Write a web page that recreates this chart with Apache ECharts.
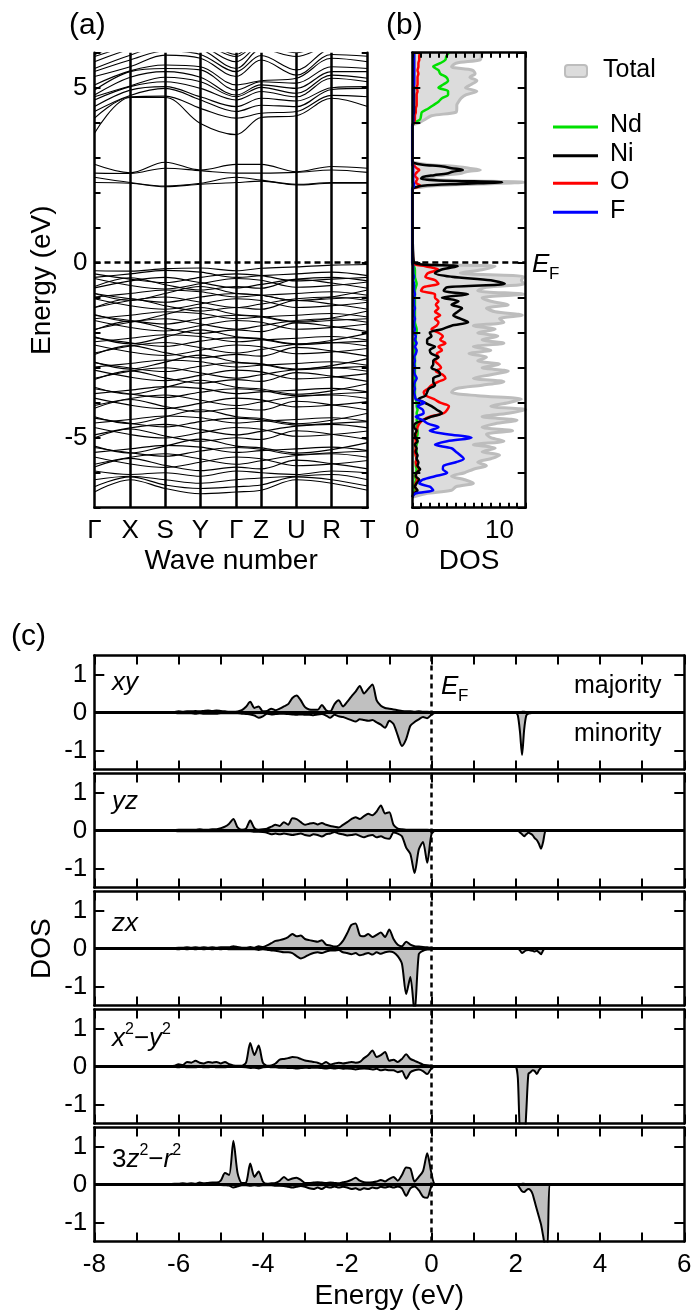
<!DOCTYPE html>
<html><head><meta charset="utf-8">
<script src="https://cdn.jsdelivr.net/npm/echarts@6/dist/echarts.min.js"></script>
<style>html,body{margin:0;padding:0;background:#fff}#c{width:695px;height:1316px}</style>
</head><body><div id="c"></div>
<script>
// ---------- Panel (a): band structure ----------
const kLabels = ['Γ','X','S','Y','Γ','Z','U','R','T'];
const kPos = [0, 1.0, 1.98, 2.97, 3.97, 4.67, 5.66, 6.65, 7.66];
// energies (eV) at Γ X S Y Γ Z U R T
const bandsCond = [
[3.70,4.72,4.72,3.98,3.66,4.15,4.20,4.70,4.46],
[4.13,4.74,4.76,4.41,4.13,4.27,4.32,4.78,4.74],
[4.32,4.78,4.98,4.65,4.32,4.50,4.46,4.95,4.98],
[4.46,4.93,5.03,4.74,4.46,4.70,4.62,5.00,5.03],
[4.65,5.03,5.17,4.98,4.65,4.89,4.74,5.27,5.17],
[4.74,5.05,5.30,5.17,4.74,5.01,4.84,5.36,5.27],
[4.79,5.30,5.46,5.30,4.79,5.08,4.98,5.46,5.46],
[4.93,5.46,5.55,5.51,4.93,5.17,5.13,5.60,5.55],
[5.08,5.48,5.65,5.60,5.08,5.20,5.27,5.84,5.74],
[5.32,5.60,5.93,5.84,5.32,5.79,5.36,5.95,5.90],
[5.46,5.79,6.05,5.95,5.46,5.92,5.51,6.10,6.05],
[5.55,5.93,6.20,6.10,5.55,6.10,5.89,6.20,6.20],
[5.74,6.10,6.30,6.20,5.74,6.20,6.00,6.30,6.30],
[5.89,6.20,6.40,6.30,5.89,6.30,6.10,6.40,6.40],
[5.95,6.30,6.50,6.40,5.95,6.40,6.20,6.50,6.50]
];
const bandsEg = [
[2.81,2.57,2.87,2.65,2.81,2.81,2.60,2.75,2.70],
[2.56,2.55,2.70,2.63,2.56,2.56,2.58,2.65,2.58],
[2.44,2.29,2.19,2.27,2.44,2.36,2.24,2.29,2.29],
[2.29,2.27,2.17,2.24,2.29,2.33,2.22,2.27,2.27]
];
const bandsVal = [
[-0.23,-0.24,-0.17,-0.15,-0.23,-0.16,-0.12,-0.07,-0.05],
[-0.32,-0.47,-0.57,-0.42,-0.32,-0.37,-0.52,-0.47,-0.42],
[-0.42,-0.32,-0.22,-0.27,-0.42,-0.37,-0.32,-0.27,-0.37],
[-0.72,-0.52,-0.42,-0.57,-0.72,-0.62,-0.47,-0.42,-0.52],
[-0.45,-0.65,-0.75,-0.60,-0.45,-0.50,-0.70,-0.65,-0.55],
[-0.68,-0.43,-0.63,-0.78,-0.68,-0.73,-0.48,-0.58,-0.73],
[-0.88,-1.08,-0.88,-0.68,-0.88,-0.93,-1.08,-0.98,-0.78],
[-0.88,-1.03,-1.13,-0.98,-0.88,-0.93,-1.08,-1.03,-0.98],
[-0.98,-0.88,-0.78,-0.83,-0.98,-0.93,-0.88,-0.83,-0.93],
[-1.28,-1.08,-0.98,-1.13,-1.28,-1.18,-1.03,-0.98,-1.08],
[-1.03,-1.23,-1.33,-1.18,-1.03,-1.08,-1.28,-1.23,-1.13],
[-1.28,-1.03,-1.23,-1.38,-1.28,-1.33,-1.08,-1.18,-1.33],
[-1.48,-1.68,-1.48,-1.28,-1.48,-1.53,-1.68,-1.58,-1.38],
[-1.50,-1.65,-1.75,-1.60,-1.50,-1.55,-1.70,-1.65,-1.60],
[-1.60,-1.50,-1.40,-1.45,-1.60,-1.55,-1.50,-1.45,-1.55],
[-1.90,-1.70,-1.60,-1.75,-1.90,-1.80,-1.65,-1.60,-1.70],
[-1.65,-1.85,-1.95,-1.80,-1.65,-1.70,-1.90,-1.85,-1.75],
[-1.92,-1.67,-1.87,-2.02,-1.92,-1.97,-1.72,-1.82,-1.97],
[-2.12,-2.32,-2.12,-1.92,-2.12,-2.17,-2.32,-2.22,-2.02],
[-2.14,-2.29,-2.39,-2.24,-2.14,-2.19,-2.34,-2.29,-2.24],
[-2.26,-2.16,-2.06,-2.11,-2.26,-2.21,-2.16,-2.11,-2.21],
[-2.58,-2.38,-2.28,-2.43,-2.58,-2.48,-2.33,-2.28,-2.38],
[-2.35,-2.55,-2.65,-2.50,-2.35,-2.40,-2.60,-2.55,-2.45],
[-2.62,-2.37,-2.57,-2.72,-2.62,-2.67,-2.42,-2.52,-2.67],
[-2.84,-3.04,-2.84,-2.64,-2.84,-2.89,-3.04,-2.94,-2.74],
[-2.86,-3.01,-3.11,-2.96,-2.86,-2.91,-3.06,-3.01,-2.96],
[-2.98,-2.88,-2.78,-2.83,-2.98,-2.93,-2.88,-2.83,-2.93],
[-3.30,-3.10,-3.00,-3.15,-3.30,-3.20,-3.05,-3.00,-3.10],
[-3.07,-3.27,-3.37,-3.22,-3.07,-3.12,-3.32,-3.27,-3.17],
[-3.34,-3.09,-3.29,-3.44,-3.34,-3.39,-3.14,-3.24,-3.39],
[-3.56,-3.76,-3.56,-3.36,-3.56,-3.61,-3.76,-3.66,-3.46],
[-3.60,-3.75,-3.85,-3.70,-3.60,-3.65,-3.80,-3.75,-3.70],
[-3.74,-3.64,-3.54,-3.59,-3.74,-3.69,-3.64,-3.59,-3.69],
[-4.08,-3.88,-3.78,-3.93,-4.08,-3.98,-3.83,-3.78,-3.88],
[-3.87,-4.07,-4.17,-4.02,-3.87,-3.92,-4.12,-4.07,-3.97],
[-4.16,-3.91,-4.11,-4.26,-4.16,-4.21,-3.96,-4.06,-4.21],
[-4.40,-4.60,-4.40,-4.20,-4.40,-4.45,-4.60,-4.50,-4.30],
[-4.44,-4.59,-4.69,-4.54,-4.44,-4.49,-4.64,-4.59,-4.54],
[-4.58,-4.48,-4.38,-4.43,-4.58,-4.53,-4.48,-4.43,-4.53],
[-4.92,-4.72,-4.62,-4.77,-4.92,-4.82,-4.67,-4.62,-4.72],
[-4.71,-4.91,-5.01,-4.86,-4.71,-4.76,-4.96,-4.91,-4.81],
[-5.00,-4.75,-4.95,-5.10,-5.00,-5.05,-4.80,-4.90,-5.05],
[-5.24,-5.44,-5.24,-5.04,-5.24,-5.29,-5.44,-5.34,-5.14],
[-5.28,-5.43,-5.53,-5.38,-5.28,-5.33,-5.48,-5.43,-5.38],
[-5.42,-5.32,-5.22,-5.27,-5.42,-5.37,-5.32,-5.27,-5.37],
[-5.76,-5.56,-5.46,-5.61,-5.76,-5.66,-5.51,-5.46,-5.56],
[-5.55,-5.75,-5.85,-5.70,-5.55,-5.60,-5.80,-5.75,-5.65],
[-5.84,-5.59,-5.79,-5.94,-5.84,-5.89,-5.64,-5.74,-5.89],
[-5.95,-6.05,-6.00,-6.10,-5.95,-6.00,-6.05,-5.95,-6.00],
[-6.20,-6.10,-6.20,-6.30,-6.20,-6.15,-6.10,-6.05,-6.20],
[-6.40,-6.12,-6.35,-6.45,-6.40,-6.35,-6.12,-6.20,-6.38],
[-6.55,-6.20,-6.45,-6.60,-6.55,-6.50,-6.20,-6.30,-6.50]
];

// ---------- Panel (b): DOS ----------
const dosE = [
-6.7,-6.6,-6.5,-6.4,-6.3,-6.2,-6.1,-6.0,-5.9,-5.8,-5.7,-5.6,-5.5,-5.4,-5.3,-5.2,-5.1,-5.0,-4.9,-4.8,
-4.7,-4.6,-4.5,-4.4,-4.3,-4.2,-4.1,-4.0,-3.9,-3.8,-3.7,-3.6,-3.5,-3.4,-3.3,-3.2,-3.1,-3.0,-2.9,-2.8,
-2.7,-2.6,-2.5,-2.4,-2.3,-2.2,-2.1,-2.0,-1.9,-1.8,-1.7,-1.6,-1.5,-1.4,-1.3,-1.2,-1.1,-1.0,-0.9,-0.8,
-0.7,-0.6,-0.5,-0.4,-0.3,-0.2,-0.1,0.0,
2.1,2.15,2.2,2.25,2.3,2.35,2.4,2.45,2.5,2.55,2.6,2.65,2.7,2.75,2.8,2.85,2.9,
3.9,4.0,4.1,4.2,4.3,4.4,4.5,4.6,4.7,4.8,4.9,5.0,5.1,5.2,5.3,5.4,5.5,5.6,5.7,5.8,5.9,6.0
];
const dosTotal = [
0,1.5,4.5,5.0,7.0,6.0,4.5,6.0,7.0,8.5, 7.5,9.0,10.0,8.0,9.5,7.0,10.5,9.0,8.5,11.5,
8.0,9.5,12.0,8.0,11.0,13.0,9.0,11.0,12.5,7.5, 4.5,5.0,8.0,10.5,7.0,9.0,11.0,8.0,10.0,7.5,
8.5,6.5,9.0,7.0,10.5,8.0,9.8,7.5,9.5,7.0, 10.5,10.0,12.6,9.5,8.5,11.0,9.0,8.0,12.8,7.5,
8.5,12.8,12.5,12.8,5.5,8.0,9.5,0,
0,0.8,2.5,8.0,12.8,5.0,1.8,2.0,3.5,5.5,6.2,7.8,6.5,5.0,2.0,0.5,0,
0,0.8,1.5,2.2,5.0,5.1,5.1,5.3,5.6,6.2,7.4,6.1,6.8,7.4,6.6,7.2,6.9,4.5,5.0,7.8,7.9,8.0
];
const dosNd = [
0,0.1,0.3,0.2,0.3,0.4,0.3,0.4,0.5,0.4, 0.4,0.5,0.4,0.5,0.4,0.5,0.6,0.5,0.6,0.6,
0.5,0.6,0.5,0.6,0.5,0.6,0.5,0.5,0.4,0.3, 0.3,0.3,0.3,0.3,0.3,0.3,0.3,0.3,0.3,0.3,
0.3,0.3,0.3,0.3,0.3,0.4,0.4,0.5,0.5,0.4, 0.3,0.3,0.3,0.3,0.3,0.3,0.3,0.3,0.3,0.3,
0.4,0.5,0.4,0.3,0.3,0.3,0.2,0,
0,0.05,0.1,0.1,0.05,0.05,0.05,0.05,0.05,0.05,0.05,0.05,0.05,0.05,0,0,0,
0,0.3,0.9,1.0,1.1,1.8,2.4,3.0,3.4,4.1,4.1,3.0,3.6,4.1,3.9,3.2,3.0,2.4,3.2,3.8,3.9,4.2
];
const dosNi = [
0,0.2,0.6,0.3,0.5,0.8,0.4,0.5,0.9,0.6, 0.7,0.5,0.6,0.4,0.5,0.3,0.6,0.4,0.3,0.5,
0.2,0.3,1.2,2.2,3.4,2.8,2.2,1.4,0.7,1.5, 1.7,1.9,2.6,2.4,2.4,3.2,3.0,2.2,2.4,2.4,
3.0,2.2,2.0,2.6,1.7,1.7,2.2,2.0,3.4,4.5, 6.4,5.5,4.7,5.2,5.7,4.5,5.3,3.4,6.4,3.6,
4.0,10.6,9.0,4.5,2.6,3.3,5.2,0.2,
0,0.3,1.2,5.5,10.3,3.0,1.0,1.2,2.5,4.0,4.6,5.8,4.5,3.5,1.2,0.2,0,
0,0.1,0.1,0.1,0.2,0.2,0.2,0.2,0.2,0.2,0.2,0.2,0.2,0.2,0.2,0.2,0.2,0.2,0.2,0.2,0.2,0.2
];
const dosO = [
0,0.2,0.5,0.3,0.4,0.6,0.4,0.5,0.8,0.5, 0.4,0.5,0.4,0.3,0.4,0.3,0.4,0.3,0.4,0.5,
0.6,0.8,1.2,2.0,3.6,4.0,4.2,3.2,2.5,1.6, 1.3,1.8,2.2,3.0,3.8,3.5,2.7,3.3,3.0,2.6,
3.0,2.8,3.4,3.0,3.8,3.2,3.5,3.0,2.2,2.8, 3.0,2.6,3.2,2.6,3.0,2.7,3.0,2.6,2.6,1.0,
1.3,3.0,2.6,1.5,1.8,3.0,1.5,0.1,
0,0.5,0.9,0.6,0.4,0.5,0.6,0.4,0.3,0.4,0.6,0.8,0.5,0.3,0.1,0,0,
0,0.2,0.3,0.3,0.4,0.4,0.5,0.5,0.5,0.5,0.6,0.5,0.6,0.6,0.6,0.7,0.6,0.7,0.7,0.8,0.8,0.9
];
const dosF = [
0,0.3,2.4,2.0,0.8,1.2,2.6,4.0,3.5,3.6, 5.0,5.9,5.5,5.0,4.5,2.6,4.0,6.8,4.0,2.0,
3.0,1.8,1.2,0.4,1.3,1.2,0.6,1.4,0.4,0.3, 0.2,0.3,0.2,0.3,0.5,0.3,0.2,0.3,0.2,0.3,
0.2,0.4,0.5,0.3,0.5,0.3,0.4,0.2,0.3,0.2, 0.2,0.3,0.2,0.2,0.3,0.2,0.2,0.2,0.3,0.2,
0.2,0.2,0.1,0.2,0.1,0.1,0.1,0,
0,0.1,0.2,0.2,0.1,0.1,0.1,0.1,0.1,0.1,0.1,0.1,0.1,0.1,0,0,0,
0,0.1,0.1,0.1,0.1,0.1,0.1,0.1,0.1,0.1,0.1,0.1,0.2,0.2,0.2,0.2,0.2,0.2,0.2,0.2,0.2,0.2
];
const dosNames = ['Nd','Ni','O','F'];

// ---------- Panel (c): Ni-d orbital resolved DOS ----------
const pdosE = [
-6.3,-6.2,-6.1,-6.0,-5.9,-5.8,-5.7,-5.6,-5.5,-5.4,
-5.3,-5.2,-5.1,-5.0,-4.9,-4.8,-4.7,-4.6,-4.5,-4.4,
-4.3,-4.2,-4.1,-4.0,-3.9,-3.8,-3.7,-3.6,-3.5,-3.4,
-3.3,-3.2,-3.1,-3.0,-2.9,-2.8,-2.7,-2.6,-2.5,-2.4,
-2.3,-2.2,-2.1,-2.0,-1.9,-1.8,-1.7,-1.6,-1.5,-1.4,
-1.3,-1.2,-1.1,-1.0,-0.9,-0.8,-0.7,-0.6,-0.5,-0.4,
-0.3,-0.2,-0.1,0.0,0.1,
1.9,1.95,2.0,2.05,2.1,2.15,2.2,2.25,2.3,2.35,2.4,2.45,2.5,2.55,2.6,2.65,2.7,2.75,2.8,2.85,2.9,2.95,3.0
];
const xyUp = [
0,0,0.01,0.03,0.02,0.03,0.03,0.04,0.03,0.04,
0.05,0.04,0.05,0.04,0.03,0.02,0.02,0.03,0.06,0.15,
0.28,0.12,0.16,0.03,0.04,0.1,0.06,0.1,0.16,0.22,
0.38,0.45,0.32,0.14,0.08,0.07,0.07,0.2,0.06,0.03,
0.22,0.32,0.16,0.28,0.42,0.55,0.7,0.5,0.62,0.74,
0.32,0.18,0.12,0.1,0.08,0.06,0.04,0.03,0.03,0.02,
0.03,0.02,0.02,0.01,0,
0,0,0,0,0,0.02,0.02,0.01,0,0,0,0,0,0,0,0,0,0,0,0,0,0,0
];
const xyDn = [
0,0,-0.01,-0.02,-0.02,-0.02,-0.02,-0.03,-0.02,-0.03,
-0.03,-0.03,-0.03,-0.02,-0.02,-0.02,-0.02,-0.02,-0.03,-0.04,
-0.05,-0.08,-0.14,-0.1,-0.03,-0.05,-0.04,-0.03,-0.03,-0.04,
-0.05,-0.06,-0.05,-0.06,-0.06,-0.07,-0.05,-0.04,-0.08,-0.14,
-0.06,-0.1,-0.12,-0.16,-0.2,-0.24,-0.18,-0.2,-0.22,-0.2,
-0.26,-0.32,-0.4,-0.22,-0.3,-0.6,-0.88,-0.7,-0.35,-0.25,
-0.18,-0.12,-0.15,-0.06,0,
0,0,0,-0.08,-0.5,-1.12,-0.45,-0.08,-0.03,-0.02,-0.01,0,0,0,0,0,0,0,0,0,0,0,0
];
const yzUp = [
0,0,0.01,0.02,0.02,0.02,0.02,0.02,0.03,0.02,
0.02,0.03,0.03,0.06,0.1,0.18,0.3,0.08,0.02,0.05,
0.26,0.06,0.02,0.03,0.05,0.1,0.15,0.12,0.22,0.15,
0.32,0.3,0.22,0.15,0.18,0.2,0.16,0.2,0.15,0.12,
0.1,0.08,0.15,0.22,0.3,0.35,0.3,0.38,0.44,0.4,
0.5,0.66,0.45,0.48,0.15,0.05,0.03,0.02,0.02,0.02,
0.02,0.02,0.02,0.01,0,
0,0,0,0,0,0,0,0,0,0,0,0,0,0,0,0,0,0,0,0,0,0,0
];
const yzDn = [
0,0,-0.01,-0.02,-0.02,-0.02,-0.02,-0.02,-0.02,-0.02,
-0.02,-0.02,-0.02,-0.02,-0.02,-0.02,-0.02,-0.02,-0.02,-0.02,
-0.02,-0.03,-0.03,-0.04,-0.06,-0.1,-0.08,-0.1,-0.08,-0.1,
-0.12,-0.1,-0.08,-0.12,-0.14,-0.1,-0.12,-0.16,-0.1,-0.08,
-0.04,-0.08,-0.1,-0.13,-0.12,-0.1,-0.14,-0.18,-0.14,-0.12,
-0.18,-0.15,-0.2,-0.22,-0.05,-0.08,-0.15,-0.45,-0.62,-1.12,
-0.5,-0.3,-0.85,-0.1,0,
0,0,0,0,-0.05,-0.1,-0.15,-0.1,-0.06,-0.08,-0.12,-0.2,-0.25,-0.35,-0.48,-0.3,-0.02,0,0,0,0,0,0
];
const zxUp = [
0,0,0.01,0.02,0.02,0.03,0.02,0.03,0.02,0.03,
0.02,0.03,0.02,0.03,0.03,0.03,0.06,0.04,0.02,0.02,
0.04,0.02,0.06,0.04,0.08,0.14,0.2,0.22,0.25,0.3,
0.38,0.32,0.34,0.25,0.22,0.2,0.18,0.22,0.1,0.08,
0.05,0.08,0.2,0.4,0.62,0.66,0.35,0.32,0.38,0.3,
0.36,0.42,0.3,0.5,0.25,0.1,0.06,0.18,0.1,0.06,
0.05,0.04,0.03,0.02,0,
0,0,0,0,0,0,0,0,0,0,0,0,0,0,0,0,0,0,0,0,0,0,0
];
const zxDn = [
0,0,-0.01,-0.02,-0.01,-0.02,-0.01,-0.02,-0.01,-0.02,
-0.01,-0.02,-0.01,-0.02,-0.01,-0.02,-0.02,-0.02,-0.02,-0.02,
-0.02,-0.02,-0.04,-0.02,-0.03,-0.05,-0.06,-0.08,-0.1,-0.1,
-0.12,-0.2,-0.26,-0.22,-0.16,-0.12,-0.1,-0.12,-0.08,-0.05,
-0.05,-0.04,-0.1,-0.12,-0.15,-0.12,-0.18,-0.15,-0.12,-0.16,
-0.1,-0.14,-0.1,-0.08,-0.1,-0.2,-0.4,-1.2,-0.75,-1.7,
-0.15,-0.06,-0.03,-0.02,0,
0,0,0,0,-0.05,-0.12,-0.08,-0.05,-0.04,-0.05,-0.06,-0.08,-0.06,-0.1,-0.15,-0.05,0,0,0,0,0,0,0
];
const x2y2Up = [
0,0,0.02,0.06,0.04,0.12,0.1,0.15,0.1,0.08,
0.12,0.1,0.12,0.08,0.12,0.06,0.03,0.02,0.02,0.1,
0.62,0.3,0.55,0.1,0.02,0.03,0.08,0.18,0.2,0.22,
0.25,0.24,0.2,0.16,0.14,0.12,0.1,0.06,0.12,0.05,
0.08,0.1,0.08,0.1,0.12,0.1,0.12,0.22,0.3,0.42,
0.25,0.3,0.38,0.15,0.18,0.12,0.2,0.32,0.2,0.15,
0.1,0.05,0.03,0.02,0,
0,0,0,0,0,0,0,0,0,0,0,0,0,0,0,0,0,0,0,0,0,0,0
];
const x2y2Dn = [
0,0,-0.01,-0.02,-0.01,-0.02,-0.02,-0.02,-0.01,-0.02,
-0.02,-0.01,-0.02,-0.02,-0.02,-0.01,-0.01,-0.01,-0.01,-0.02,
-0.04,-0.03,-0.05,-0.02,-0.01,-0.02,-0.02,-0.03,-0.03,-0.04,
-0.04,-0.05,-0.04,-0.03,-0.04,-0.03,-0.03,-0.04,-0.05,-0.04,
-0.05,-0.04,-0.06,-0.05,-0.06,-0.08,-0.06,-0.05,-0.06,-0.08,
-0.06,-0.1,-0.08,-0.1,-0.1,-0.15,-0.12,-0.32,-0.15,-0.1,
-0.08,-0.12,-0.2,-0.05,0,
0,0,0,-0.3,-1.8,-2.0,-2.0,-1.2,-0.2,-0.15,-0.1,-0.12,-0.2,-0.1,-0.03,0,0,0,0,0,0,0,0
];
const z2Up = [
0,0.01,0.02,0.02,0.03,0.02,0.03,0.02,0.05,0.03,
0.04,0.05,0.05,0.1,0.3,0.25,1.15,0.3,0.04,0.05,
0.55,0.2,0.34,0.08,0.02,0.03,0.04,0.1,0.2,0.12,
0.16,0.18,0.12,0.04,0.04,0.05,0.06,0.05,0.04,0.05,
0.04,0.03,0.06,0.08,0.12,0.18,0.1,0.06,0.05,0.06,
0.08,0.12,0.08,0.15,0.2,0.1,0.25,0.45,0.42,0.08,
0.2,0.35,0.82,0.3,0,
0,0,0,0,0,0.02,0.02,0,0,0,0,0,0,0,0,0,0,0,0,0,0,0,0
];
const z2Dn = [
0,-0.01,-0.01,-0.01,-0.01,-0.01,-0.01,-0.01,-0.01,-0.01,
-0.01,-0.01,-0.01,-0.01,-0.02,-0.03,-0.08,-0.05,-0.02,-0.02,
-0.03,-0.02,-0.03,-0.02,-0.02,-0.02,-0.03,-0.03,-0.04,-0.06,
-0.08,-0.06,-0.04,-0.06,-0.1,-0.12,-0.08,-0.12,-0.06,-0.08,
-0.05,-0.08,-0.06,-0.08,-0.12,-0.1,-0.14,-0.1,-0.12,-0.08,
-0.1,-0.06,-0.08,-0.05,-0.08,-0.05,-0.1,-0.3,-0.1,-0.05,
-0.15,-0.32,-0.35,-0.05,0,
0,0,0,-0.02,-0.1,-0.18,-0.2,-0.15,-0.12,-0.15,-0.25,-0.45,-0.65,-0.85,-1.05,-1.35,-1.65,-1.7,0,0,0,0,0
];
const orbitalUp = [xyUp, yzUp, zxUp, x2y2Up, z2Up];
const orbitalDn = [xyDn, yzDn, zxDn, x2y2Dn, z2Dn];
const orbitalLabels = ['{i|xy}', '{i|yz}', '{i|zx}', '{i|x}{s|2}{u|−}{i|y}{s|2}', '{u|3}{i|z}{s|2}{u|−}{i|r}{s|2}'];
const pdosYTicks = [-1, 0, 1];

// ---------- build option ----------
const FF = '"Liberation Sans", Arial, Helvetica, sans-serif';
const C = {Nd:'#00e000', Ni:'#000000', O:'#ff0000', F:'#0000ff', totFill:'#dcdcdc', totLine:'#bdbdbd', pFill:'#c0c0c0'};
const dosArr = {Nd:dosNd, Ni:dosNi, O:dosO, F:dosF};
function frame(){return {show:true,onZero:false,lineStyle:{color:'#000',width:2.5}};}
function ticks(len, extra){return Object.assign({show:true,inside:true,length:len,lineStyle:{color:'#000',width:2}}, extra||{});}
const noLabel = {show:false};
const TICK_FS = 26, NAME_FS = 28;
const lbl = (extra) => Object.assign({color:'#000', fontSize:TICK_FS, fontFamily:FF}, extra);
const nameStyle = {color:'#000', fontSize:NAME_FS, fontFamily:FF};

const grids = [
  {left:94.5, top:52.7, width:273.2, height:455},
  {left:412.3, top:52.7, width:113.4, height:455}
];
for (let i=0;i<5;i++) grids.push({left:94.3, top:655.5+118*i, width:590, height:114});
grids.forEach(g => {g.containLabel=false; g.outerBoundsMode='none';});

const xAxes = [], yAxes = [];
// (a)
xAxes.push({gridIndex:0, type:'value', min:0, max:kPos[kPos.length-1], position:'bottom', z:10,
  axisLine:frame(), axisTick:{show:false}, splitLine:{show:false},
  axisLabel:lbl({customValues:kPos, margin:10, formatter:(v)=>{let b=0;kPos.forEach((k,j)=>{if(Math.abs(k-v)<Math.abs(kPos[b]-v))b=j;});return kLabels[b];}}),
  name:'Wave number', nameLocation:'middle', nameGap:40, nameTextStyle:nameStyle});
yAxes.push({gridIndex:0, type:'value', min:-7, max:6, interval:1, position:'left', z:10,
  axisLine:frame(), axisTick:ticks(6), splitLine:{show:false},
  axisLabel:lbl({margin:7, formatter:(v)=> (v%5===0? String(v):'')}),
  name:'Energy (eV)', nameLocation:'middle', nameGap:38, nameTextStyle:nameStyle});
yAxes.push({gridIndex:0, type:'value', min:-7, max:6, interval:1, position:'right', z:10,
  axisLine:frame(), axisTick:ticks(6), splitLine:{show:false}, axisLabel:noLabel});
// (b)
xAxes.push({gridIndex:1, type:'value', min:0, max:13, interval:1, position:'bottom', z:10,
  axisLine:frame(), axisTick:ticks(5), splitLine:{show:false},
  axisLabel:lbl({margin:10, formatter:(v)=> (v===0||v===10? String(v):'')}),
  name:'DOS', nameLocation:'middle', nameGap:40, nameTextStyle:nameStyle});
xAxes.push({gridIndex:1, type:'value', min:0, max:13, interval:1, position:'top', z:10,
  axisLine:frame(), axisTick:ticks(5), splitLine:{show:false}, axisLabel:noLabel});
yAxes.push({gridIndex:1, type:'value', min:-7, max:6, interval:1, position:'left', z:10,
  axisLine:frame(), axisTick:ticks(8), splitLine:{show:false}, axisLabel:noLabel});
yAxes.push({gridIndex:1, type:'value', min:-7, max:6, interval:1, position:'right', z:10,
  axisLine:frame(), axisTick:ticks(8), splitLine:{show:false}, axisLabel:noLabel});
// (c)
for (let i=0;i<5;i++){
  const last = i===4;
  xAxes.push({gridIndex:2+i, type:'value', min:-8, max:6, interval:1, position:'bottom', z:10,
    axisLine:frame(), axisTick:ticks(9), splitLine:{show:false},
    axisLabel: last ? lbl({margin:10, formatter:(v)=> (v%2===0? String(v):'')}) : noLabel,
    name: last ? 'Energy (eV)' : '', nameLocation:'middle', nameGap:41, nameTextStyle:nameStyle});
  xAxes.push({gridIndex:2+i, type:'value', min:-8, max:6, interval:1, position:'top', z:10,
    axisLine:frame(), axisTick:ticks(9), splitLine:{show:false}, axisLabel:noLabel});
  yAxes.push({gridIndex:2+i, type:'value', min:-1.5, max:1.5, position:'left', z:10,
    axisLine:frame(), axisTick:ticks(10,{customValues:pdosYTicks}), splitLine:{show:false},
    axisLabel:lbl({margin:7, customValues:pdosYTicks})});
  yAxes.push({gridIndex:2+i, type:'value', min:-1.5, max:1.5, position:'right', z:10,
    axisLine:frame(), axisTick:ticks(10,{customValues:pdosYTicks}), splitLine:{show:false}, axisLabel:noLabel});
}

const ML = (data) => ({silent:true, symbol:['none','none'], label:{show:false}, animation:false, emphasis:{disabled:true}, data});
const series = [];
// band lines
[...bandsCond, ...bandsEg, ...bandsVal].forEach((b, i) => {
  const s = {type:'line', xAxisIndex:0, yAxisIndex:0, data:kPos.map((k,j)=>[k,b[j]]), showSymbol:false,
    smooth:0.35, clip:true, silent:true, animation:false, emphasis:{disabled:true},
    lineStyle:{color:'#000', width:1.1}, z:2};
  if (i===0) s.markLine = ML([
    ...kPos.slice(1,-1).map(k=>({xAxis:k, lineStyle:{color:'#000', width:2.5, type:'solid'}})),
    {yAxis:0, lineStyle:{color:'#000', width:2.5, type:[6,4]}}
  ]);
  series.push(s);
});
// DOS total fill
series.push({type:'custom', name:'Total', xAxisIndex:1, yAxisIndex:2, coordinateSystem:'cartesian2d', clip:true, silent:true, animation:false,
  data:[[0,0]], z:1,
  renderItem:(params, api) => {
    const pts = [api.coord([0, dosE[0]])];
    dosE.forEach((e,i)=>pts.push(api.coord([dosTotal[i], e])));
    pts.push(api.coord([0, dosE[dosE.length-1]]));
    return {type:'polygon', shape:{points:pts}, style:{fill:C.totFill, stroke:null}};
  }});
series.push({type:'line', xAxisIndex:1, yAxisIndex:2, data:dosE.map((e,i)=>[dosTotal[i], e]), showSymbol:false, smooth:0.3,
  clip:true, silent:true, animation:false, lineStyle:{color:C.totLine, width:3}, z:2});
['Nd','O','Ni','F'].forEach((n, idx) => {
  const s = {type:'line', name:n, xAxisIndex:1, yAxisIndex:2, data:dosE.map((e,i)=>[dosArr[n][i], e]), showSymbol:false, smooth:0.3,
    clip:true, silent:true, animation:false, lineStyle:{color:C[n], width:2.5}, z:3};
  if (idx===0) s.markLine = ML([{yAxis:0, lineStyle:{color:'#000', width:2.5, type:[6,4]}}]);
  series.push(s);
});
// PDOS panels
for (let i=0;i<5;i++){
  [orbitalUp[i], orbitalDn[i]].forEach((arr, k) => {
    const s = {type:'line', xAxisIndex:3+2*i, yAxisIndex:4+2*i, data:pdosE.map((e,j)=>[e, arr[j]]), showSymbol:false,
      smooth:0.25, clip:true, silent:true, animation:false,
      lineStyle:{color:'#000', width:2}, areaStyle:{color:C.pFill, opacity:1}, z:2};
    if (k===0) s.markLine = ML([
      {yAxis:0, lineStyle:{color:'#000', width:3, type:'solid'}},
      {xAxis:0, lineStyle:{color:'#000', width:2.5, type:[5,4]}}
    ]);
    series.push(s);
  });
}

// text elements
function T(x, y, text, font, extra){
  return Object.assign({type:'text', x, y, silent:true, z:100,
    style:{text, font, fill:'#000', align:'left', verticalAlign:'middle', textAlign:'left', textVerticalAlign:'middle'}}, extra||{});
}
const f = (s, it) => (it?'italic ':'') + s + 'px ' + FF;
const graphics = [
  T(69, 26, '(a)', f(30)), T(386, 26, '(b)', f(30)), T(11, 637, '(c)', f(30)),
  // E_F labels
  T(532, 265, 'E', f(26,true)), T(549, 274, 'F', f(17)),
  T(441, 687, 'E', f(26,true)), T(458, 696, 'F', f(17)),
  T(574, 686, 'majority', f(25)), T(574, 734, 'minority', f(25)),
  // legend of (b)
  {type:'rect', silent:true, z:100, shape:{x:565, y:65, width:22, height:12, r:3}, style:{fill:C.totFill, stroke:C.totLine, lineWidth:2}},
  T(603, 70, 'Total', f(25)),
  {type:'text', silent:true, z:100, x:42, y:948.7, rotation:Math.PI/2,
    style:{text:'DOS', font:f(NAME_FS), fill:'#000', align:'center', verticalAlign:'middle', textAlign:'center', textVerticalAlign:'middle'}}
];
const legendY = [127, 155.7, 183.3, 212.3];
dosNames.forEach((n, i) => {
  graphics.push({type:'line', silent:true, z:100, shape:{x1:553, y1:legendY[i], x2:598, y2:legendY[i]}, style:{stroke:C[n], lineWidth:3}});
  graphics.push(T(610, legendY[i]-1.5, n, f(25)));
});
const orbY = [681, 800, 922, 1037, 1158];
orbitalLabels.forEach((t, i) => {
  graphics.push({type:'text', silent:true, z:100, x:112, y:orbY[i],
    style:{text:t, fill:'#000', align:'left', verticalAlign:'middle', textAlign:'left', textVerticalAlign:'middle',
      rich:{
        i:{fontStyle:'italic', fontSize:26, fontFamily:FF, fill:'#000', color:'#000', lineHeight:30, verticalAlign:'bottom'},
        u:{fontSize:26, fontFamily:FF, fill:'#000', color:'#000', lineHeight:30, verticalAlign:'bottom'},
        s:{fontSize:16, fontFamily:FF, fill:'#000', color:'#000', lineHeight:30, verticalAlign:'top', padding:[0,0,0,0]}
      }}});
});

const chart = echarts.init(document.getElementById('c'), null, {renderer:'canvas'});
chart.setOption({
  animation:false,
  backgroundColor:'#fff',
  textStyle:{fontFamily:FF},
  grid:grids, xAxis:xAxes, yAxis:yAxes, series, graphic:graphics
});
</script></body></html>
